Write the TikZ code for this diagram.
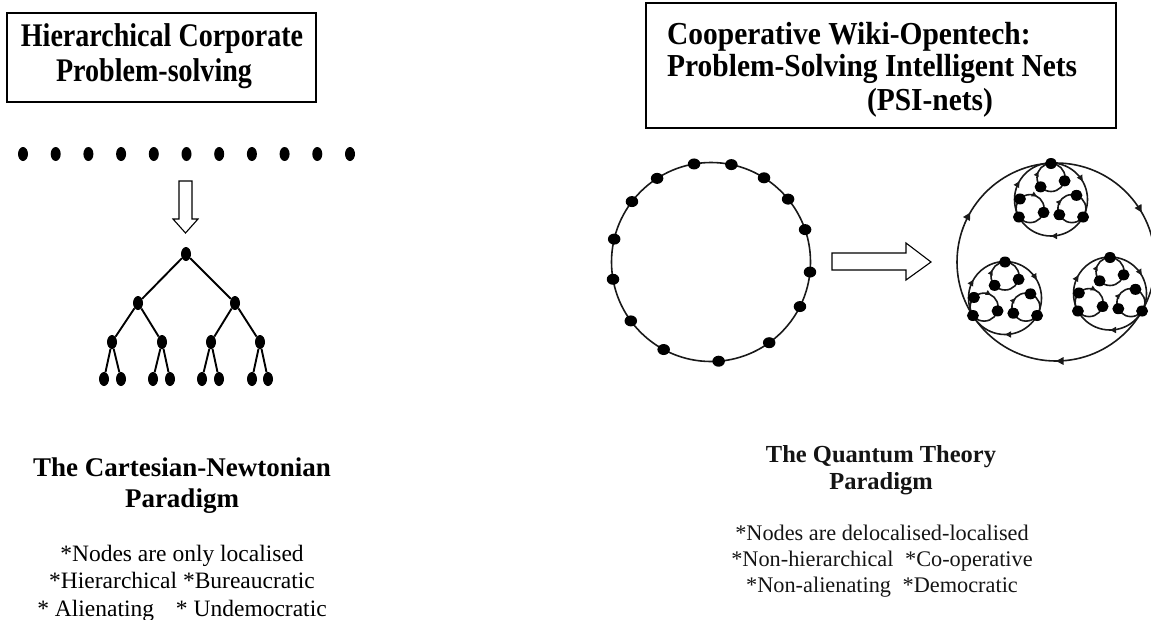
\documentclass[tikz,border=0pt]{standalone}
\usepackage{fontspec}
\setmainfont{Liberation Serif}
\newfontfamily\leftttlfont[FakeStretch=0.85]{Liberation Serif}
\newfontfamily\rightttlfont[FakeStretch=0.92]{Liberation Serif}
\usetikzlibrary{shapes.geometric,arrows.meta,decorations.markings,calc}

\tikzset{
  rowdot/.style={ellipse, fill=black, inner sep=0pt, minimum width=10pt, minimum height=14pt},
  ringdot/.style={ellipse, fill=black, inner sep=0pt, minimum width=12.5pt, minimum height=11pt},
  celldot/.style={ellipse, fill=black, inner sep=0pt, minimum width=12pt, minimum height=11pt},
  branch/.style={line width=1.9pt},
  titlebox/.style={draw, line width=1.2pt, inner sep=0pt},
  blockarrow/.style={draw, line width=1.1pt, fill=white, line join=miter},
  ring/.style={line width=1.6pt, draw=black!90},
  flow/.style={postaction={decorate}, decoration={markings,
     mark=at position 0.1667 with {\arrow{Triangle[length=#1,width=#1]}},
     mark=at position 0.5 with {\arrow{Triangle[length=#1,width=#1]}},
     mark=at position 0.8333 with {\arrow{Triangle[length=#1,width=#1]}}}},
  oneflow/.style 2 args={postaction={decorate}, decoration={markings,
     mark=at position #1 with {\arrow{Triangle[length=#2,width=#2]}}}},
  lttl/.style={font=\leftttlfont\fontsize{33}{36}\selectfont\bfseries, inner sep=0pt, anchor=base},
  rttl/.style={font=\rightttlfont\fontsize{32}{36}\selectfont\bfseries, inner sep=0pt, anchor=base},
  lhead/.style={font=\fontsize{27}{32}\selectfont\bfseries, inner sep=0pt, anchor=base},
  lbody/.style={font=\fontsize{23.5}{27}\selectfont, inner sep=0pt, anchor=base},
  qhead/.style={font=\fontsize{24.5}{28}\selectfont\bfseries, inner sep=0pt, anchor=base, text=black!92},
  qbody/.style={font=\fontsize{22.3}{26}\selectfont, inner sep=0pt, anchor=base, text=black!92},
}

\begin{document}
\begin{tikzpicture}[x=1pt, y=1pt]
\useasboundingbox (0,0) rectangle (1151,-619);

% ---------- left panel: hierarchical problem solving ----------
\node[titlebox, minimum width=309pt, minimum height=89pt] (lbox) at (161.5,-57.5) {};
\node[lttl] (lt1) at (162,-46.5) {Hierarchical Corporate};
\node[lttl] (lt2) at (154,-81.5) {Problem-solving};

% scattered individuals
\foreach \i in {0,...,10}
  \node[rowdot] (row\i) at ({23+\i*32.7},-154) {};

% hollow arrow pointing down
\draw[blockarrow] (179,-181) -- (192,-181) -- (192,-219) -- (198,-219)
  -- (185.5,-233) -- (173,-219) -- (179,-219) -- cycle;

% binary hierarchy
\node[rowdot] (t0) at (186,-254) {};
\node[rowdot] (t1) at (138,-303) {};
\node[rowdot] (t2) at (235,-303) {};
\node[rowdot] (t3) at (112,-342) {};
\node[rowdot] (t4) at (162,-342) {};
\node[rowdot] (t5) at (211,-342) {};
\node[rowdot] (t6) at (260,-342) {};
\node[rowdot] (t7) at (104,-379) {};
\node[rowdot] (t8) at (121,-379) {};
\node[rowdot] (t9) at (153,-379) {};
\node[rowdot] (t10) at (170,-379) {};
\node[rowdot] (t11) at (202,-379) {};
\node[rowdot] (t12) at (219,-379) {};
\node[rowdot] (t13) at (252,-379) {};
\node[rowdot] (t14) at (268,-379) {};
\draw[branch] (t1) -- (t0) -- (t2);
\draw[branch] (t3) -- (t1) -- (t4);
\draw[branch] (t5) -- (t2) -- (t6);
\draw[branch] (t7) -- (t3) -- (t8);
\draw[branch] (t9) -- (t4) -- (t10);
\draw[branch] (t11) -- (t5) -- (t12);
\draw[branch] (t13) -- (t6) -- (t14);

\node[lhead] (lh1) at (182,-476) {The Cartesian-Newtonian};
\node[lhead] (lh2) at (182,-507) {Paradigm};
\node[lbody] (lb1) at (182,-561) {*Nodes are only localised};
\node[lbody] (lb2) at (182,-588) {*Hierarchical *Bureaucratic};
\node[lbody] (lb3) at (182,-616) {* Alienating\hspace{16pt} * Undemocratic};

% ---------- right panel: PSI-nets ----------
\node[titlebox, minimum width=470pt, minimum height=125pt] (rbox) at (881,-65.5) {};
\node[rttl, anchor=base west] (rt1) at (667,-44) {Cooperative Wiki-Opentech:};
\node[rttl, anchor=base west] (rt2) at (667,-76) {Problem-Solving Intelligent Nets};
\node[rttl] (rt3) at (930,-110) {(PSI-nets)};

% ring of nodes
\draw[ring] (711,-262) circle[radius=99.5];
\begin{scope}[shift={(711,-262)}]
  \foreach \a [count=\i] in {99.8,78.2,57.8,39.2,19,-5.8,-26.6,-54.2,-85.6,-118.4,-143.7,-170,166.7,142.6,122.8}
    \node[ringdot] (p\i) at (\a:99.5) {};
\end{scope}

% hollow arrow pointing right
\draw[blockarrow] (832,-253) -- (906,-253) -- (906,-243) -- (931,-262)
  -- (906,-280) -- (906,-270) -- (832,-270) -- cycle;

% nested cooperative nets: one outer loop joining three identical cells,
% each cell being a loop joining three small loops of three nodes
\draw[ring, flow=7.5pt] ($(1056,-262)+(90:99)$) arc[start angle=90, end angle=-270, radius=99];
\foreach \cx/\cy [count=\i] in {1051/-198.5, 1005/-297, 1110/-292.5} {
  \begin{scope}[shift={(\cx,\cy)}]
    \draw[ring, flow=6pt] ($(0,-1)+(90:36.5)$) arc[start angle=90, end angle=-270, radius=36.5];
    \draw[ring, oneflow={0.82}{5pt}] ($(0,21)+(90:14)$) arc[start angle=90, end angle=-270, radius=14];
    \draw[ring, oneflow={0.08}{5pt}] ($(-20.9,-10.1)+(90:14)$) arc[start angle=90, end angle=-270, radius=14];
    \draw[ring, oneflow={0.86}{5pt}] ($(20.9,-10.1)+(90:14)$) arc[start angle=90, end angle=-270, radius=14];
    \node[celldot] (c\i n1) at ($(0,21)+(90:14)$) {};
    \node[celldot] (c\i n2) at ($(0,21)+(222:14)$) {};
    \node[celldot] (c\i n3) at ($(0,21)+(346:14)$) {};
    \node[celldot] (c\i n4) at ($(-20.9,-10.1)+(136.5:14)$) {};
    \node[celldot] (c\i n5) at ($(-20.9,-10.1)+(217:14)$) {};
    \node[celldot] (c\i n6) at ($(-20.9,-10.1)+(344:14)$) {};
    \node[celldot] (c\i n7) at ($(20.9,-10.1)+(206:14)$) {};
    \node[celldot] (c\i n8) at ($(20.9,-10.1)+(71:14)$) {};
    \node[celldot] (c\i n9) at ($(20.9,-10.1)+(323:14)$) {};
  \end{scope}
}

\node[qhead] (qh1) at (881,-462) {The Quantum Theory};
\node[qhead] (qh2) at (881,-489) {Paradigm};
\node[qbody] (qb1) at (882,-540) {*Nodes are delocalised-localised};
\node[qbody] (qb2) at (882,-566) {*Non-hierarchical\hspace{6pt} *Co-operative};
\node[qbody] (qb3) at (882,-592) {*Non-alienating\hspace{6pt} *Democratic};
\end{tikzpicture}
\end{document}
